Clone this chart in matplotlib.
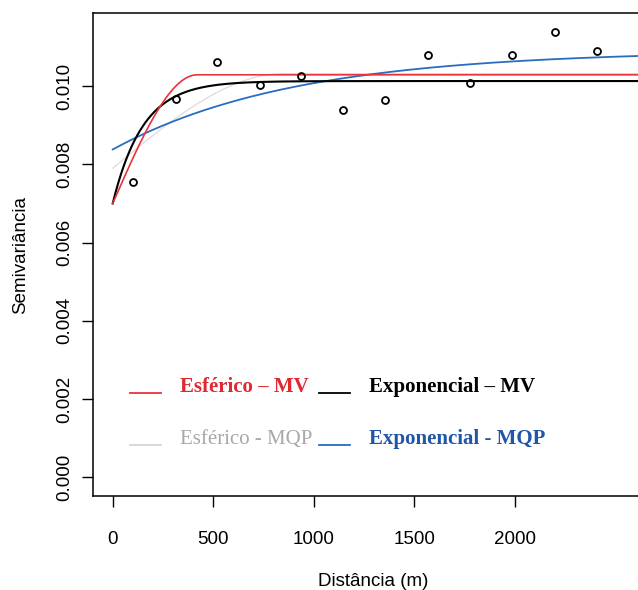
import numpy as np
import matplotlib
matplotlib.use("Agg")
import matplotlib.pyplot as plt
from matplotlib.lines import Line2D
from matplotlib.legend_handler import HandlerLine2D

# semivariograma empirico (distancia em m)
lags = [103, 316, 519, 730, 937, 1147, 1355, 1566, 1777, 1985, 2198, 2409]
gamma = [0.00755, 0.00967, 0.01061, 0.01004, 0.01026, 0.00940,
         0.00965, 0.01079, 0.01009, 0.01079, 0.01138, 0.01091]

# modelos ajustados: (efeito pepita, patamar, alcance)
esf_mv = (0.00700, 0.01029, 420)
exp_mv = (0.00700, 0.01013, 150)
esf_mqp = (0.00790, 0.01032, 850)
exp_mqp = (0.00838, 0.01091, 900)

xticks = [0, 500, 1000, 1500, 2000]
yticks = [0.000, 0.002, 0.004, 0.006, 0.008, 0.010]


def esferico(h, c0, sill, a):
    r = np.minimum(h / a, 1.0)
    return c0 + (sill - c0) * (1.5 * r - 0.5 * r ** 3)


def exponencial(h, c0, sill, a):
    return c0 + (sill - c0) * (1 - np.exp(-h / a))


class LinhaBaixa(HandlerLine2D):
    # traco da legenda desenhado mais baixo, tipo sublinhado
    def create_artists(self, legend, orig_handle, xdescent, ydescent,
                       width, height, fontsize, trans):
        return super().create_artists(legend, orig_handle, xdescent,
                                      ydescent + 12, width, height,
                                      fontsize, trans)


h = np.linspace(0, 2700, 400)

fig = plt.figure(figsize=(6.38, 5.9), dpi=100)
ax = fig.add_axes([93 / 638, 94 / 590, 560 / 638, 483 / 590])

ax.plot(h, esferico(h, *esf_mqp), color="#e2d9d9", lw=0.9)
ax.plot(h, exponencial(h, *exp_mqp), color="#2b6cc0", lw=1.3)
ax.plot(h, exponencial(h, *exp_mv), color="black", lw=1.5)
ax.plot(h, esferico(h, *esf_mv), color="#e8333a", lw=1.2)
ax.plot(lags, gamma, "o", mfc="none", mec="black", ms=5, mew=1.3)

ax.set_xlim(-98, 2686)
ax.set_ylim(-0.00048, 0.01187)
ax.set_xticks(xticks)
ax.set_yticks(yticks)
ax.set_yticklabels([f"{v:.3f}" for v in yticks], rotation=90, va="center")
for lab in ax.get_xticklabels() + ax.get_yticklabels():
    lab.set_fontfamily("Liberation Sans")
    lab.set_fontsize(13.5)
ax.tick_params(axis="both", length=8, width=1, direction="out")
ax.tick_params(axis="x", pad=17)
ax.tick_params(axis="y", pad=6)
ax.spines["right"].set_visible(False)
for s in ["left", "bottom", "top"]:
    ax.spines[s].set_linewidth(1.1)

ax.set_xlabel("Distância (m)", fontsize=13.5, family="Liberation Sans", labelpad=18)
ax.set_ylabel("Semivariância", fontsize=13.5, family="Liberation Sans", labelpad=20)

labels = ["Esférico – MV", "Esférico - MQP", "Exponencial – MV", "Exponencial - MQP"]
colors = ["#e8333a", "#d6d6d6", "black", "#2b6cc0"]
text_colors = ["#e02830", "#a8a8a8", "black", "#1f56a8"]
weights = ["bold", "normal", "bold", "bold"]
handles = [Line2D([], [], color=c, lw=1.3) for c in colors]
leg = ax.legend(handles, labels, ncol=2, frameon=False, loc="upper left",
                bbox_to_anchor=(0.033, 0.285), handlelength=1.5, handletextpad=0.9,
                columnspacing=0.3, labelspacing=1.55,
                handler_map={Line2D: LinhaBaixa()},
                prop={"family": "Liberation Serif", "size": 15})
for t, c, w in zip(leg.get_texts(), text_colors, weights):
    t.set_color(c)
    t.set_fontweight(w)

fig.savefig("out.png", dpi=100)
